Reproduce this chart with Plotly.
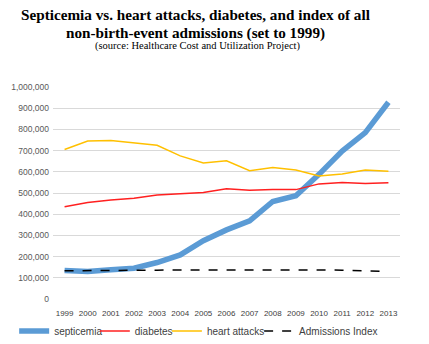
import plotly.graph_objects as go

years = [str(y) for y in range(1999, 2014)]
septicemia = [135000, 130000, 138000, 145000, 172000, 208000, 275000, 326000, 369000, 460000, 487000, 588000, 698000, 785000, 928000]
diabetes = [435000, 455000, 467000, 475000, 490000, 497000, 502000, 520000, 513000, 516000, 516000, 543000, 550000, 545000, 548000]
heart_attacks = [705000, 745000, 748000, 735000, 725000, 675000, 642000, 652000, 605000, 620000, 608000, 580000, 590000, 608000, 603000]
admissions_index = [133000, 133000, 133000, 134000, 136000, 137000, 137000, 137000, 138000, 140000, 137000, 137000, 136000, 133000, 129000]

series_names = ["septicemia", "diabetes", "heart attacks", "Admissions Index"]
tick_vals = list(range(0, 1000001, 100000))
tick_text = [f"{v:,}" for v in tick_vals]

fig = go.Figure()
fig.add_trace(go.Scatter(x=years, y=septicemia, name=series_names[0], mode="lines",
                         line=dict(color="#5B9BD5", width=5.5), legend="legend"))
fig.add_trace(go.Scatter(x=years, y=diabetes, name=series_names[1], mode="lines",
                         line=dict(color="#FF2020", width=1.5), legend="legend2"))
fig.add_trace(go.Scatter(x=years, y=heart_attacks, name=series_names[2], mode="lines",
                         line=dict(color="#FFC000", width=1.5), legend="legend3"))
fig.add_trace(go.Scatter(x=years, y=admissions_index, name=series_names[3], mode="lines",
                         line=dict(color="#000000", width=1.5, dash="dash"), legend="legend4"))

title_font = dict(family="Liberation Serif", size=15.2, color="#000000")
fig.add_annotation(text="<b>Septicemia vs. heart attacks, diabetes, and index of all</b>",
                   xref="paper", yref="paper", x=0.412, y=1.34, xanchor="center", yanchor="middle",
                   showarrow=False, font=title_font)
fig.add_annotation(text="<b>non-birth-event admissions (set to 1999)</b>",
                   xref="paper", yref="paper", x=0.412, y=1.255, xanchor="center", yanchor="middle",
                   showarrow=False, font=title_font)
fig.add_annotation(text="(source: Healthcare Cost and Utilization Project)",
                   xref="paper", yref="paper", x=0.415, y=1.193, xanchor="center", yanchor="middle",
                   showarrow=False, font=dict(family="Liberation Serif", size=10.5, color="#000000"))

legend_font = dict(family="Liberation Sans", size=10, color="#404040")
def leg(x):
    return dict(orientation="h", xref="container", yref="container",
                x=x, xanchor="left", y=0.038, yanchor="middle",
                font=legend_font, itemwidth=30, bgcolor="rgba(0,0,0,0)")

fig.update_layout(
    width=429, height=344,
    margin=dict(l=53, r=29, t=87, b=45, autoexpand=False),
    paper_bgcolor="white", plot_bgcolor="white",
    xaxis=dict(type="category", range=[-0.5, 14.5], showgrid=False, showline=False,
               ticks="", ticklabelstandoff=8,
               tickfont=dict(family="Liberation Sans", size=8, color="#404040")),
    yaxis=dict(range=[0, 1000000], tickvals=tick_vals, ticktext=tick_text,
               showgrid=True, gridcolor="#D9D9D9", gridwidth=1, zeroline=False,
               ticks="", ticklabelstandoff=3,
               tickfont=dict(family="Liberation Sans", size=8.5, color="#595959")),
    legend=leg(0.033),
    legend2=leg(0.221),
    legend3=leg(0.389),
    legend4=leg(0.604),
    showlegend=True,
)

fig.write_html("out.html")
